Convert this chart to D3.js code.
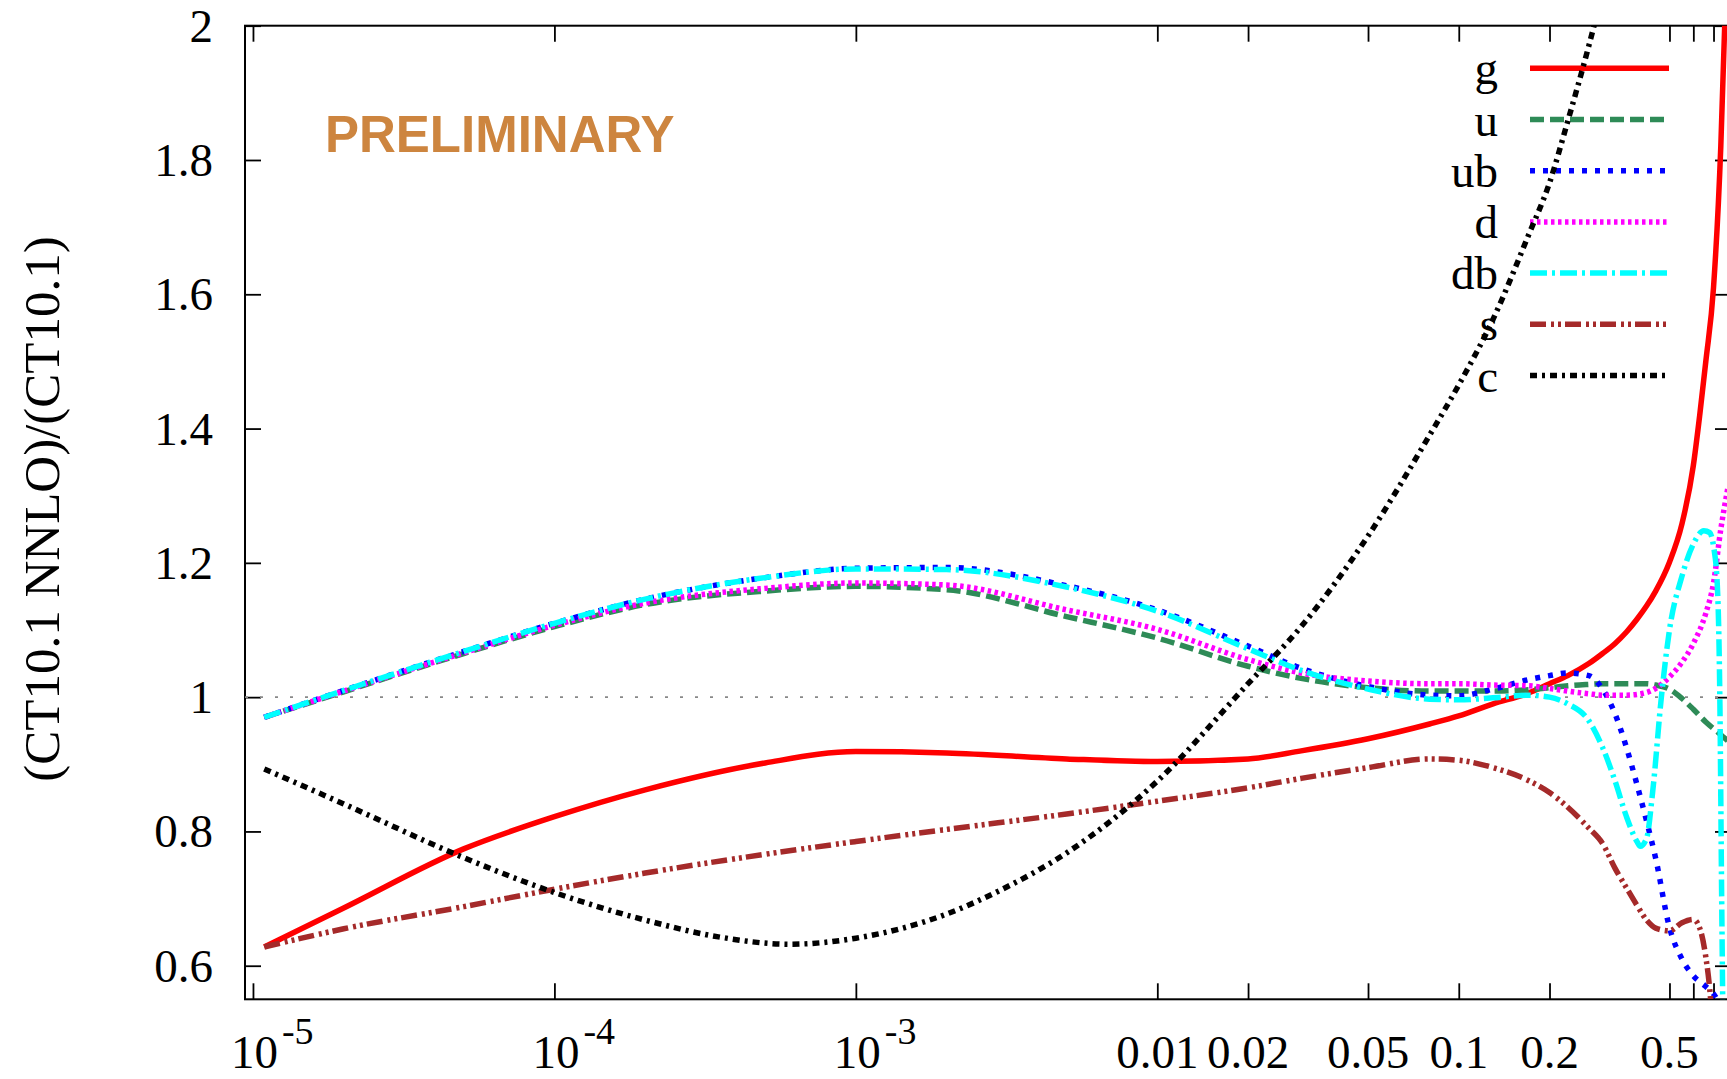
<!DOCTYPE html>
<html>
<head>
<meta charset="utf-8">
<script src="https://cdn.jsdelivr.net/npm/d3@7"></script>
<style>
  body { margin: 0; background: #fff; }
  svg { display: block; }
</style>
</head>
<body>
<svg id="chart" width="1727" height="1079"></svg>
<script>
// ---------- data: ratio CT10.1 NNLO / CT10.1 versus parton momentum fraction x ----------
const seriesNames  = ["g", "u", "ub", "d", "db", "s", "c"];
const seriesColors = ["#ff0000", "#2e8b57", "#0000ff", "#ff00ff", "#00ffff", "#a52a2a", "#000000"];

const gX  = [1.09e-5, 2e-5, 5e-5, 1e-4, 2e-4, 5e-4, 1e-3, 2e-3, 5e-3, 0.01, 0.02, 0.03, 0.05, 0.08, 0.1, 0.13, 0.17, 0.2, 0.23, 0.27, 0.3, 0.33, 0.36, 0.39, 0.42, 0.45, 0.5, 0.55, 0.6, 0.63, 0.66, 0.7, 0.74, 0.77, 0.8];
const gY  = [0.628, 0.686, 0.774, 0.822, 0.862, 0.902, 0.919, 0.917, 0.908, 0.904, 0.908, 0.92, 0.938, 0.96, 0.972, 0.99, 1.006, 1.02, 1.032, 1.05, 1.065, 1.08, 1.097, 1.116, 1.136, 1.158, 1.201, 1.258, 1.345, 1.42, 1.5, 1.61, 1.82, 2.06, 2.35];

const uX  = [1.09e-5, 2e-5, 5e-5, 1e-4, 2e-4, 5e-4, 1e-3, 2e-3, 5e-3, 0.01, 0.02, 0.03, 0.05, 0.08, 0.1, 0.13, 0.17, 0.2, 0.23, 0.27, 0.3, 0.36, 0.42, 0.45, 0.5, 0.55, 0.6, 0.66, 0.7, 0.74, 0.78];
const uY  = [0.97, 1.008, 1.065, 1.105, 1.138, 1.158, 1.165, 1.16, 1.12, 1.088, 1.046, 1.028, 1.014, 1.009, 1.009, 1.009, 1.011, 1.014, 1.017, 1.019, 1.02, 1.02, 1.02, 1.018, 1.012, 0.998, 0.982, 0.963, 0.953, 0.944, 0.935];

const ubX = [1.09e-5, 2e-5, 5e-5, 1e-4, 2e-4, 5e-4, 1e-3, 2e-3, 5e-3, 0.01, 0.02, 0.03, 0.05, 0.08, 0.1, 0.13, 0.17, 0.2, 0.23, 0.27, 0.3, 0.33, 0.36, 0.39, 0.42, 0.45, 0.5, 0.55, 0.6, 0.66, 0.7, 0.76];
const ubY = [0.97, 1.01, 1.068, 1.11, 1.146, 1.178, 1.192, 1.193, 1.166, 1.13, 1.076, 1.043, 1.016, 1.003, 1.002, 1.012, 1.026, 1.032, 1.036, 1.032, 1.012, 0.975, 0.925, 0.87, 0.815, 0.76, 0.657, 0.61, 0.585, 0.569, 0.558, 0.53];

const dX  = [1.09e-5, 2e-5, 5e-5, 1e-4, 2e-4, 5e-4, 1e-3, 2e-3, 5e-3, 0.01, 0.02, 0.03, 0.05, 0.08, 0.1, 0.13, 0.17, 0.2, 0.23, 0.27, 0.3, 0.36, 0.42, 0.45, 0.5, 0.55, 0.6, 0.66, 0.7, 0.74, 0.78];
const dY  = [0.97, 1.009, 1.066, 1.107, 1.14, 1.162, 1.17, 1.167, 1.13, 1.101, 1.056, 1.036, 1.024, 1.02, 1.02, 1.018, 1.017, 1.013, 1.009, 1.005, 1.003, 1.003, 1.007, 1.013, 1.03, 1.052, 1.08, 1.125, 1.17, 1.25, 1.31];

const dbX = [1.09e-5, 2e-5, 5e-5, 1e-4, 2e-4, 5e-4, 1e-3, 2e-3, 5e-3, 0.01, 0.02, 0.03, 0.05, 0.08, 0.1, 0.13, 0.17, 0.2, 0.23, 0.27, 0.3, 0.33, 0.36, 0.39, 0.4, 0.42, 0.44, 0.47, 0.5, 0.55, 0.6, 0.65, 0.68, 0.7, 0.72, 0.735, 0.745, 0.755];
const dbY = [0.97, 1.01, 1.068, 1.11, 1.146, 1.178, 1.191, 1.19, 1.164, 1.128, 1.072, 1.04, 1.012, 0.997, 0.996, 0.999, 1.003, 1.0, 0.99, 0.965, 0.925, 0.875, 0.822, 0.785, 0.778, 0.79, 0.86, 1.0, 1.1, 1.18, 1.228, 1.248, 1.245, 1.225, 1.17, 0.99, 0.7, 0.45];

const sX  = [1.09e-5, 2e-5, 5e-5, 1e-4, 2e-4, 5e-4, 1e-3, 2e-3, 5e-3, 0.01, 0.02, 0.03, 0.05, 0.08, 0.1, 0.13, 0.17, 0.2, 0.23, 0.27, 0.3, 0.33, 0.36, 0.39, 0.42, 0.45, 0.5, 0.55, 0.6, 0.63, 0.66, 0.68, 0.7, 0.72];
const sY  = [0.628, 0.655, 0.688, 0.714, 0.738, 0.766, 0.785, 0.803, 0.826, 0.845, 0.865, 0.879, 0.895, 0.908, 0.906, 0.895, 0.876, 0.858, 0.836, 0.805, 0.782, 0.745, 0.716, 0.69, 0.668, 0.656, 0.652, 0.664, 0.669, 0.656, 0.613, 0.565, 0.49, 0.4];

const cX  = [1.09e-5, 2e-5, 5e-5, 1e-4, 2e-4, 3.5e-4, 6e-4, 1e-3, 2e-3, 3e-3, 5e-3, 0.01, 0.02, 0.03, 0.05, 0.08, 0.1, 0.13, 0.17, 0.2, 0.23, 0.27, 0.3];
const cY  = [0.893, 0.841, 0.761, 0.709, 0.668, 0.643, 0.632, 0.641, 0.677, 0.712, 0.768, 0.875, 1.02, 1.105, 1.24, 1.39, 1.465, 1.563, 1.687, 1.766, 1.858, 1.97, 2.05];

const seriesX = [gX, uX, ubX, dX, dbX, sX, cX];
const seriesY = [gY, uY, ubY, dY, dbY, sY, cY];

const xTickValues = [1e-5, 1e-4, 1e-3, 0.01, 0.02, 0.05, 0.1, 0.2, 0.5, 0.6, 0.7];
const xTickLabels = ["10^-5", "10^-4", "10^-3", "0.01", "0.02", "0.05", "0.1", "0.2", "0.5", "", ""];
const yTickValues = [0.6, 0.8, 1, 1.2, 1.4, 1.6, 1.8, 2];
const yTickLabels = ["0.6", "0.8", "1", "1.2", "1.4", "1.6", "1.8", "2"];

const xRange = [9.41e-6, 0.8];
const yRange = [0.55, 2];

// ---------- layout ----------
const plot = { left: 245, right: 1731, top: 25.7, bottom: 999.3 };
const serif = "'Liberation Serif', 'Times New Roman', serif";
const dashes = ["none", "14,6", "5,8", "3.5,3.5", "17,5,3,5", "16,5,3,4,3,4", "7,5,3,5"];
const lineWidth = 5.5;

const svg = d3.select("#chart");

const x = d3.scaleLog().domain(xRange).range([plot.left, plot.right]);
const y = d3.scaleLinear().domain(yRange).range([plot.bottom, plot.top]);

svg.append("defs").append("clipPath").attr("id", "plotClip")
  .append("rect")
  .attr("x", plot.left).attr("y", plot.top)
  .attr("width", plot.right - plot.left).attr("height", plot.bottom - plot.top);

// ---------- axes: inward ticks on all four sides ----------
function styleAxis(g) {
  g.select(".domain").remove();
  g.selectAll(".tick line").attr("stroke", "#000").attr("stroke-width", 1.8);
  g.selectAll(".tick text").remove();
}
svg.append("g").attr("transform", `translate(0,${plot.bottom})`)
  .call(d3.axisBottom(x).tickValues(xTickValues).tickSize(-16).tickSizeOuter(0).tickFormat(""))
  .call(styleAxis);
svg.append("g").attr("transform", `translate(0,${plot.top})`)
  .call(d3.axisTop(x).tickValues(xTickValues).tickSize(-16).tickSizeOuter(0).tickFormat(""))
  .call(styleAxis);
svg.append("g").attr("transform", `translate(${plot.left},0)`)
  .call(d3.axisLeft(y).tickValues(yTickValues).tickSize(-16).tickSizeOuter(0).tickFormat(""))
  .call(styleAxis);
svg.append("g").attr("transform", `translate(${plot.right},0)`)
  .call(d3.axisRight(y).tickValues(yTickValues).tickSize(-16).tickSizeOuter(0).tickFormat(""))
  .call(styleAxis);

// plot border
svg.append("rect")
  .attr("x", plot.left).attr("y", plot.top)
  .attr("width", plot.right - plot.left).attr("height", plot.bottom - plot.top)
  .attr("fill", "none").attr("stroke", "#000").attr("stroke-width", 2);

// y tick labels
svg.append("g").selectAll("text")
  .data(yTickValues)
  .join("text")
  .attr("x", plot.left - 32)
  .attr("y", d => y(d) + 16)
  .attr("text-anchor", "end")
  .attr("font-family", serif).attr("font-size", 47)
  .text((d, i) => yTickLabels[i]);

// x tick labels (powers of ten get a raised exponent)
const xLab = svg.append("g");
xTickValues.forEach((v, i) => {
  const lab = xTickLabels[i];
  if (!lab) return;
  const px = x(v);
  if (lab.includes("^")) {
    const [base, exp] = lab.split("^");
    xLab.append("text")
      .attr("x", px + 1.5).attr("y", 1068)
      .attr("text-anchor", "middle")
      .attr("font-family", serif).attr("font-size", 47)
      .text(base);
    xLab.append("text")
      .attr("x", px + 29).attr("y", 1044)
      .attr("font-family", serif).attr("font-size", 38)
      .text(exp);
  } else {
    xLab.append("text")
      .attr("x", px).attr("y", 1068)
      .attr("text-anchor", "middle")
      .attr("font-family", serif).attr("font-size", 47)
      .text(lab);
  }
});

// y axis title
svg.append("text")
  .attr("transform", "translate(59,509) rotate(-90)")
  .attr("text-anchor", "middle")
  .attr("font-family", serif).attr("font-size", 51)
  .text("(CT10.1 NNLO)/(CT10.1)");

// watermark
svg.append("text")
  .attr("x", 325).attr("y", 151.7)
  .attr("font-family", "'Liberation Sans', Arial, sans-serif")
  .attr("font-weight", "bold").attr("font-size", 51)
  .attr("fill", "#cd853f")
  .text("PRELIMINARY");

// reference line at ratio 1
svg.append("line")
  .attr("x1", plot.left).attr("x2", plot.right)
  .attr("y1", y(1)).attr("y2", y(1))
  .attr("stroke", "#888").attr("stroke-width", 1.8)
  .attr("stroke-dasharray", "3,12");

// ---------- legend ----------
const legend = svg.append("g");
seriesNames.forEach((name, i) => {
  const ry = 68.3 + i * 51.2;
  legend.append("text")
    .attr("x", 1498).attr("y", ry + 16)
    .attr("text-anchor", "end")
    .attr("font-family", serif).attr("font-size", 47)
    .text(name);
  legend.append("line")
    .attr("x1", 1530).attr("x2", 1669)
    .attr("y1", ry).attr("y2", ry)
    .attr("stroke", seriesColors[i]).attr("stroke-width", lineWidth)
    .attr("stroke-dasharray", dashes[i]);
});

// ---------- curves ----------
const line = d3.line()
  .x(d => x(d[0]))
  .y(d => y(d[1]))
  .curve(d3.curveMonotoneX);

const curves = svg.append("g").attr("clip-path", "url(#plotClip)");
seriesNames.forEach((name, i) => {
  const pts = seriesX[i].map((xv, k) => [xv, seriesY[i][k]]);
  curves.append("path")
    .datum(pts)
    .attr("d", line)
    .attr("fill", "none")
    .attr("stroke", seriesColors[i])
    .attr("stroke-width", lineWidth)
    .attr("stroke-dasharray", dashes[i])
    .attr("stroke-linejoin", "round");
});
</script>
</body>
</html>
